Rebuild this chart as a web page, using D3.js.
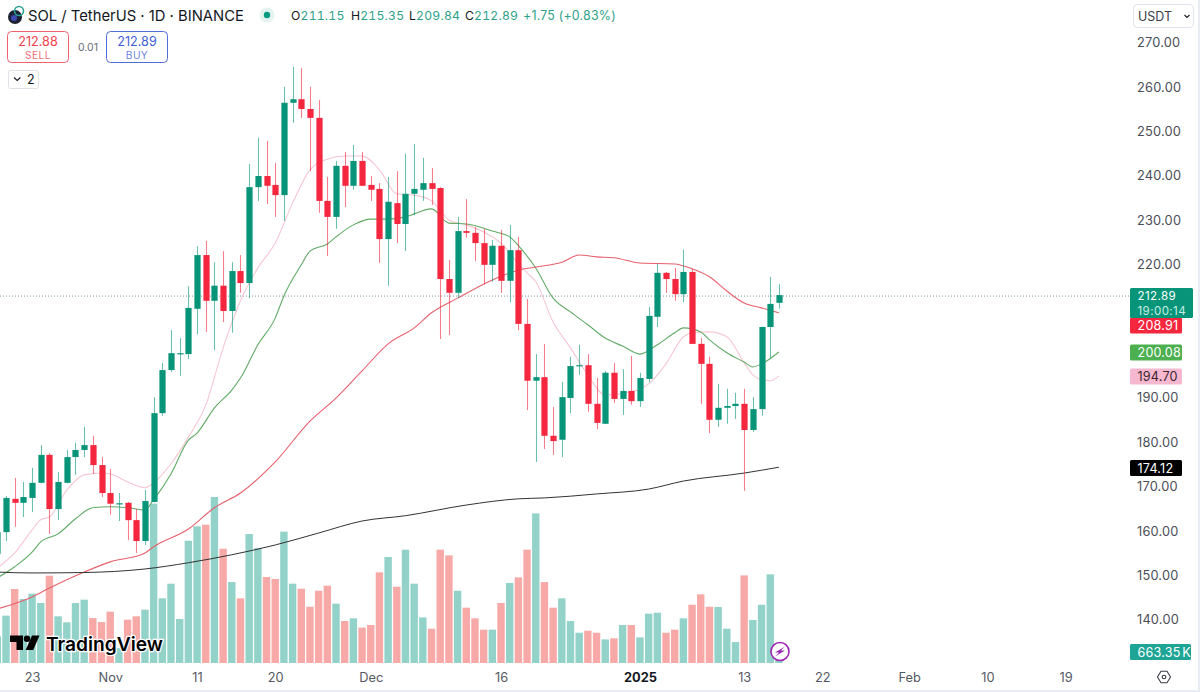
<!DOCTYPE html>
<html>
<head>
<meta charset="utf-8">
<title>SOL / TetherUS</title>
<script src="https://cdn.jsdelivr.net/npm/d3@7"></script>
<style>
  html, body { margin: 0; padding: 0; background: #fff; overflow: hidden; }
  text { font-family: Inter, "Noto Sans", sans-serif; }
  .tnum { font-variant-numeric: tabular-nums; }
</style>
</head>
<body>
<script>
// daily candles, first one is 19 Oct 2024 (USDT)
const opens = [154.6,159.5,167.0,166.1,167.2,170.6,176.9,164.7,170.6,176.4,178.0,179.1,174.6,168.3,165.9,166.1,162.2,157.5,166.3,186.3,196.0,199.6,199.6,209.8,221.9,211.6,215.0,209.3,218.3,215.6,237.2,239.7,237.7,235.4,256.2,257.0,254.8,252.8,234.1,230.5,242.0,237.5,243.1,237.7,236.8,225.5,233.6,228.9,235.7,236.6,238.1,237.0,216.5,213.4,227.3,226.9,224.6,219.7,224.0,216.1,223.0,206.4,193.6,194.4,181.2,180.3,189.7,196.9,197.1,188.4,183.9,195.4,189.5,191.3,189.0,194.0,208.0,217.9,216.5,213.1,218.1,201.9,197.4,184.8,187.5,187.9,188.4,182.5,187.2,205.7,211.15];
const highs = [161.1,167.6,171.7,170.8,174.0,179.1,177.3,173.0,178.0,179.6,183.2,181.2,176.4,173.7,168.3,166.3,164.7,169.0,189.9,197.6,205.0,203.2,214.9,223.9,225.1,220.3,222.8,220.3,221.9,242.4,248.3,247.6,242.6,259.8,264.3,264.0,259.8,256.8,239.5,243.1,245.1,246.7,245.1,239.7,238.1,239.5,240.8,244.7,246.9,243.8,241.5,237.2,220.8,230.5,234.5,228.2,227.8,225.3,227.6,228.7,226.0,212.0,199.6,201.9,187.7,193.3,199.0,201.7,199.6,194.2,195.8,197.6,196.2,199.2,195.4,210.2,219.9,218.1,219.0,223.1,218.8,203.2,199.0,192.9,191.8,190.9,191.8,189.9,205.8,217.0,215.35];
const lows = [153.2,157.5,160.7,162.9,164.0,170.5,159.1,162.2,170.5,172.4,176.4,172.6,167.4,163.4,162.0,157.7,154.8,156.6,166.2,185.7,195.6,194.7,198.5,204.1,204.6,200.5,206.8,204.4,213.4,212.2,234.1,233.4,230.5,229.6,251.7,252.8,240.8,231.4,221.7,227.8,232.7,236.6,237.5,234.1,220.1,215.0,224.6,222.8,230.9,234.1,233.2,203.0,203.9,212.2,225.8,220.6,215.3,215.9,213.4,211.3,205.0,187.0,175.3,178.2,176.9,176.4,186.3,194.9,186.6,182.7,183.9,188.6,185.9,188.2,187.7,193.3,205.7,213.4,211.6,211.3,201.9,188.4,181.8,183.2,183.9,185.0,168.8,182.1,185.7,198.7,209.84];
const closes = [159.5,167.2,166.1,167.4,170.6,176.9,164.7,170.8,176.4,178.0,179.1,174.6,168.3,165.9,166.0,162.2,157.5,166.5,186.3,196.0,199.8,199.8,210.0,221.9,211.6,215.0,209.3,218.3,215.6,237.2,239.7,237.5,235.4,256.2,257.0,254.8,252.8,234.1,230.5,242.0,237.5,243.1,237.5,236.6,225.5,233.9,228.9,235.7,236.8,238.1,236.8,216.5,213.4,227.3,226.9,224.6,219.7,224.0,216.1,223.0,206.4,193.6,194.4,181.2,180.0,189.9,196.9,197.1,188.4,184.1,195.4,189.5,191.3,189.0,194.2,208.2,217.9,216.5,213.1,218.1,201.9,197.4,184.8,187.5,187.9,188.4,182.5,187.2,205.7,210.9,212.89];
// volume in thousands, same days
const volumes = [200,355,555,480,520,450,655,350,305,450,475,337,307,385,112,325,350,400,1195,485,595,330,917,1025,1037,1245,857,607,485,967,862,645,630,985,595,557,422,542,580,445,315,335,265,285,680,795,572,850,595,342,257,850,807,542,415,335,250,250,450,600,642,850,1122,607,415,485,315,227,242,227,177,185,285,285,192,370,377,227,250,335,437,515,422,420,257,157,657,322,437,665,83];

// moving averages, read at a day offset from 20 Oct 2024
const pinkDays = [-1,1,3,4,5,7,9,11,12,14,16,17,19,21,23,25,27,29,31,33,35,37,39,41,43,45,47,49,50,51,53,55,57,59,60,61,63,65,67,69,72,74,76,78,79,81,83,85,86,87,88,89];
const pinkVals = [151.4,154.8,160.0,162.3,162.9,169.0,172.4,172.8,172.6,170.8,169.5,170.6,174.9,180.9,188.1,201.0,211.6,219.0,224.6,233.6,241.1,243.5,244.2,244.2,241.1,235.7,235.4,234.1,232.0,229.8,228.7,227.1,224.6,219.9,217.9,215.9,206.8,201.0,194.9,190.4,191.1,192.9,197.4,203.5,204.4,204.6,203.5,197.6,194.9,193.8,193.6,194.7];
const greenDays = [-1,1,3,4,6,8,10,12,14,16,17,19,21,22,24,26,27,29,31,32,34,35,37,38,40,42,44,46,49,51,53,56,58,59,61,63,65,67,69,71,73,75,77,78,80,81,83,85,86,87,89];
const greenVals = [149.2,151.7,155.0,157.3,159.1,162.5,165.0,165.2,165.0,164.5,166.8,172.6,180.2,181.8,187.5,191.5,194.2,201.7,207.7,212.7,219.7,222.8,224.4,226.0,228.7,230.0,230.0,230.5,232.3,229.1,228.9,227.3,226.0,224.0,219.0,212.2,209.1,206.2,203.2,201.4,199.6,201.7,204.4,205.5,204.6,202.8,199.9,197.8,196.7,197.4,200.08];
const redDays = [-1,3,5,9,12,16,17,21,24,27,31,35,38,41,44,47,49,52,56,59,61,64,66,68,70,73,77,79,81,83,85,87,89];
const redVals = [142.2,144.9,146.9,150.5,152.8,154.8,156.2,160.2,165.0,168.3,175.3,184.5,189.7,195.8,201.9,205.5,208.9,212.2,216.3,218.5,219.2,220.3,221.9,221.5,221.3,220.1,219.9,218.8,217.0,213.8,211.1,210.0,208.91];
const blackDays = [-1,3,9,16,21,26,31,36,41,46,53,59,62,68,74,78,85,89];
const blackVals = [150.5,150.3,150.4,151.2,152.6,154.4,156.6,159.3,162.0,163.2,165.6,167.0,167.2,168.1,169.2,171.0,172.8,174.12];

const priceTicks = [270,260,250,240,230,220,190,180,170,160,150,140];
const timeTicks = [["2024-10-23","23"],["2024-11-01","Nov"],["2024-11-11","11"],["2024-11-20","20"],["2024-12-01","Dec"],["2024-12-16","16"],["2025-01-01","2025"],["2025-01-13","13"],["2025-01-22","22"],["2025-02-01","Feb"],["2025-02-10","10"],["2025-02-19","19"]];

const width = 1200, height = 692;
const upColor = "#089478", downColor = "#f4273f";
const upVol = "#92d2c9", downVol = "#f7a9a7";

const firstDay = new Date(Date.UTC(2024, 9, 20));
const dayAt = i => d3.utcDay.offset(firstDay, i);

const x = d3.scaleUtc()
    .domain([firstDay, new Date(Date.UTC(2025, 1, 19))])
    .range([6, 1065.5]);
const y = d3.scaleLinear().domain([140, 270]).range([618.7, 41.5]);
const yVol = d3.scaleLinear().domain([0, 1500]).range([663, 463]);

const svg = d3.select("body").append("svg")
    .attr("width", width)
    .attr("height", height)
    .style("display", "block");

svg.append("rect").attr("width", width).attr("height", height).attr("fill", "#fff");

// volume first, everything else sits on top of it
const candles = opens.map((o, k) => ({
    date: dayAt(k - 1), o, h: highs[k], l: lows[k], c: closes[k], v: volumes[k]
}));
const bw = 7.4;
svg.append("g").selectAll("rect")
    .data(candles)
    .join("rect")
    .attr("x", d => x(d.date) - bw / 2)
    .attr("width", bw)
    .attr("y", d => yVol(d.v))
    .attr("height", d => yVol(0) - yVol(d.v))
    .attr("fill", d => d.c >= d.o ? upVol : downVol);

// last price line
svg.append("line")
    .attr("x1", 0).attr("x2", 1130)
    .attr("y1", y(212.89) + 1).attr("y2", y(212.89) + 1)
    .attr("stroke", "#7d9a94")
    .attr("stroke-width", 1)
    .attr("stroke-dasharray", "1 2");

// moving averages
const line = d3.line().x(d => x(dayAt(d[0]))).y(d => y(d[1])).curve(d3.curveMonotoneX);
const mas = [
    [pinkDays, pinkVals, "#f7c6d2", 1.1],
    [greenDays, greenVals, "#62ab66", 1.1],
    [redDays, redVals, "#e8606c", 1.1],
    [blackDays, blackVals, "#333", 1]
];
mas.forEach(([days, vals, color, w]) => {
    svg.append("path")
        .attr("d", line(days.map((d, i) => [d, vals[i]])))
        .attr("fill", "none")
        .attr("stroke", color)
        .attr("stroke-width", w);
});

// candles
const candle = svg.append("g").selectAll("g").data(candles).join("g");
candle.append("line")
    .attr("x1", d => Math.round(x(d.date)) + 0.5)
    .attr("x2", d => Math.round(x(d.date)) + 0.5)
    .attr("y1", d => y(d.h))
    .attr("y2", d => y(d.l))
    .attr("stroke", d => d.c >= d.o ? upColor : downColor)
    .attr("stroke-opacity", 0.6)
    .attr("stroke-width", 1.1);
candle.append("rect")
    .attr("x", d => Math.round(x(d.date)) + 0.5 - 3.1)
    .attr("width", 6.2)
    .attr("y", d => y(Math.max(d.o, d.c)))
    .attr("height", d => Math.max(1.2, Math.abs(y(d.o) - y(d.c))))
    .attr("fill", d => d.c >= d.o ? upColor : downColor);

// price axis on the right
const yAxis = svg.append("g")
    .attr("transform", "translate(1130,1)")
    .call(d3.axisRight(y).tickValues(priceTicks).tickFormat(d3.format(".2f")).tickSize(0).tickPadding(7));
yAxis.select(".domain").remove();
yAxis.selectAll("text").attr("font-size", 12.8).attr("letter-spacing", 0.2).attr("fill", "#4a4d57");

// time axis
const isYearTick = d => d.getUTCFullYear() === 2025 && d.getUTCMonth() === 0 && d.getUTCDate() === 1;
const xAxis = svg.append("g")
    .attr("transform", "translate(0,669.5)")
    .call(d3.axisBottom(x)
        .tickValues(timeTicks.map(t => new Date(t[0] + "T00:00:00Z")))
        .tickFormat((d, i) => timeTicks[i][1])
        .tickSize(0).tickPadding(3));
xAxis.select(".domain").remove();
xAxis.selectAll("text")
    .attr("font-size", 12.8)
    .attr("fill", d => isYearTick(d) ? "#131722" : "#555862")
    .attr("font-weight", d => isYearTick(d) ? 700 : 400);

// value tags on the price axis
const tags = [
    ["208.91", 325.5, "#f4273f", "#fff", 52],
    ["200.08", 352.5, "#4caf50", "#fff", 52],
    ["194.70", 376.5, "#f5b8cf", "#3a2530", 52],
    ["174.12", 468, "#000", "#fff", 52],
    ["663.35 K", 652, "#1ea596", "#fff", 61]
];
tags.forEach(([label, yy, bg, fg, w]) => {
    svg.append("rect").attr("x", 1130).attr("y", yy - 8).attr("width", w).attr("height", 16).attr("rx", 1.5).attr("fill", bg);
    svg.append("text").attr("x", 1137.5).attr("y", yy + 4.5).attr("font-size", 12.6)
        .attr("letter-spacing", 0.2).attr("word-spacing", -2).attr("fill", fg).text(label);
});
svg.append("rect").attr("x", 1130).attr("y", 288).attr("width", 63).attr("height", 30).attr("rx", 1.5).attr("fill", "#089478");
svg.append("text").attr("x", 1137.5).attr("y", 300).attr("font-size", 11.6).attr("letter-spacing", 0.4).attr("fill", "#fff").text("212.89");
svg.append("text").attr("x", 1137.5).attr("y", 314.5).attr("font-size", 11.6).attr("letter-spacing", 0.4).attr("fill", "#c4eee4").text("19:00:14");

// header
svg.append("circle").attr("cx", 15).attr("cy", 17).attr("r", 7).attr("fill", "#1c2030");
svg.append("circle").attr("cx", 19).attr("cy", 11).attr("r", 4.5).attr("fill", "none").attr("stroke", "#2aa198").attr("stroke-width", 1.6);
svg.append("circle").attr("cx", 14).attr("cy", 18).attr("r", 3).attr("fill", "#3f4bb5");
svg.append("text").attr("x", 28).attr("y", 21).attr("font-size", 14.8).attr("fill", "#131722").text("SOL / TetherUS · 1D · BINANCE");
svg.append("circle").attr("cx", 267).attr("cy", 15).attr("r", 7.5).attr("fill", "#e3f3f0");
svg.append("circle").attr("cx", 267).attr("cy", 15).attr("r", 3.2).attr("fill", "#089981");

const ohlc = [["O", "211.15", 291], ["H", "215.35", 351], ["L", "209.84", 409], ["C", "212.89", 465]];
ohlc.forEach(([k, v, xx]) => {
    const t = svg.append("text").attr("class", "tnum").attr("x", xx).attr("y", 20).attr("font-size", 12.2).attr("letter-spacing", 0.2);
    t.append("tspan").attr("fill", "#131722").text(k);
    t.append("tspan").attr("fill", "#2e9f8a").text(v);
});
svg.append("text").attr("x", 523).attr("y", 20).attr("font-size", 12.4).attr("letter-spacing", 0.2).attr("fill", "#2e9f8a").text("+1.75 (+0.83%)");

// sell / buy buttons
const buttons = [[7, "212.88", "SELL", "#f0616d", "#ef3f4e"], [106, "212.89", "BUY", "#4e6bd8", "#3f5fd6"]];
buttons.forEach(([xx, price, label, border, fg]) => {
    svg.append("rect").attr("x", xx + 0.5).attr("y", 31.5).attr("width", 61).attr("height", 31).attr("rx", 4)
        .attr("fill", "#fff").attr("stroke", border);
    svg.append("text").attr("x", xx + 31).attr("y", 45.5).attr("text-anchor", "middle").attr("font-size", 12.6).attr("fill", fg).text(price);
    svg.append("text").attr("x", xx + 31).attr("y", 58.5).attr("text-anchor", "middle").attr("font-size", 10.2)
        .attr("letter-spacing", 0.4).attr("fill", fg).attr("fill-opacity", 0.8).text(label);
});
svg.append("text").attr("x", 88).attr("y", 51).attr("text-anchor", "middle").attr("font-size", 10.5).attr("fill", "#6a6d78").text("0.01");

// collapsed indicators button
svg.append("rect").attr("x", 8.5).attr("y", 70.5).attr("width", 30).attr("height", 18).attr("rx", 2.5)
    .attr("fill", "#fff").attr("stroke", "#dfe1e6");
svg.append("path").attr("d", "M14 77.5l3.2 3 3.2-3").attr("fill", "none").attr("stroke", "#131722").attr("stroke-width", 1.1);
svg.append("text").attr("x", 27).attr("y", 84).attr("font-size", 12.5).attr("fill", "#131722").text("2");

// currency selector
svg.append("rect").attr("x", 1133.5).attr("y", 4.5).attr("width", 60).attr("height", 23).attr("rx", 4)
    .attr("fill", "#fff").attr("stroke", "#e0e3eb");
svg.append("text").attr("x", 1138).attr("y", 20.5).attr("font-size", 12.5).attr("fill", "#3b3e48").text("USDT");
svg.append("path").attr("d", "M1184.5 15l2.5 2.4 2.5-2.4").attr("fill", "none").attr("stroke", "#131722").attr("stroke-width", 1.1);

// watermark
const logo = svg.append("g").attr("transform", "translate(10,635.5)");
logo.append("path").attr("d", "M0 0h13v14.5h-6.5v-8H0z").attr("fill", "#000");
logo.append("circle").attr("cx", 17).attr("cy", 3.2).attr("r", 3.2).attr("fill", "#000");
logo.append("path").attr("d", "M22 0h7.5l-6.3 14.5h-7.5z").attr("fill", "#000");
svg.append("text").attr("x", 46).attr("y", 650.5)
    .attr("font-size", 19.2).attr("font-weight", 600).attr("fill", "#000")
    .attr("stroke", "#fff").attr("stroke-width", 2.5).attr("paint-order", "stroke")
    .text("TradingView");

// bolt badge on the last bar
svg.append("circle").attr("cx", 780).attr("cy", 651.5).attr("r", 9).attr("fill", "#fff").attr("stroke", "#9c27b0").attr("stroke-width", 1.6);
svg.append("path").attr("d", "M785 646.5l-10 6h4.2l-4.2 4 10-6h-4.2z").attr("fill", "#9c27b0");

// settings hexagon
svg.append("path").attr("d", "M1161 671.2h6l3.5 5.8-3.5 5.8h-6l-3.5-5.8z").attr("fill", "none").attr("stroke", "#3b3e48").attr("stroke-width", 1.1);
svg.append("circle").attr("cx", 1164).attr("cy", 677).attr("r", 1.8).attr("fill", "none").attr("stroke", "#3b3e48").attr("stroke-width", 1.1);

// page edge showing on the right and at the bottom
svg.append("rect").attr("x", 1198).attr("width", 2).attr("height", height).attr("fill", "#e9ecf2");
svg.append("rect").attr("y", 690).attr("width", width).attr("height", 2).attr("fill", "#e9ecf2");
</script>
</body>
</html>
